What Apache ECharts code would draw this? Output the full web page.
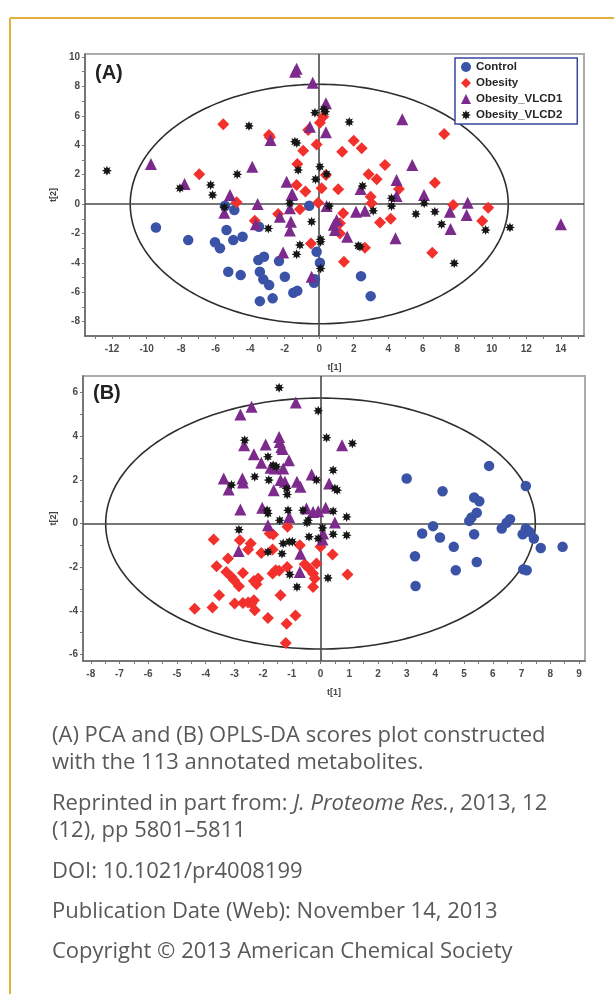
<!DOCTYPE html>
<html><head><meta charset="utf-8">
<script src="https://cdn.jsdelivr.net/npm/echarts@6/dist/echarts.min.js"></script>
<style>html,body{margin:0;padding:0;background:#fff}#c{width:614px;height:994px}</style>
</head><body><div id="c"></div>
<script>
// ---------------- DATA ----------------
const groupNames = ['Control', 'Obesity', 'Obesity_VLCD1', 'Obesity_VLCD2'];

// Panel A: PCA scores (t[1], t[2])
const controlA = [[-9.46,-1.59],[-7.59,-2.45],[-6.04,-2.6],[-5.75,-3.01],[-5.37,-1.77],[-4.98,-2.45],[-4.44,-2.22],[-5.46,-0.11],[-4.92,-0.41],[-3.49,-1.54],[-5.27,-4.6],[-4.55,-4.83],[-3.53,-3.81],[-3.2,-3.58],[-3.44,-4.6],[-3.24,-5.12],[-2.9,-5.51],[-2.33,-3.88],[-1.99,-4.94],[-3.44,-6.6],[-2.7,-6.41],[-1.5,-6.03],[-1.27,-5.9],[-0.25,-5.12],[-0.3,-5.35],[-0.58,-0.11],[-0.15,-3.24],[0.04,-3.99],[2.42,-4.9],[2.98,-6.26]];
const obesityA = [[-5.56,5.42],[-2.91,4.69],[-2.86,4.54],[-0.64,5.03],[0.04,5.53],[0.23,5.94],[-0.93,3.63],[-0.15,4.05],[-6.95,2.02],[-1.27,2.72],[-1.31,1.29],[-0.8,0.86],[0.14,1.07],[0.39,1.97],[2.0,4.3],[2.46,3.79],[1.33,3.56],[7.24,4.76],[3.81,2.65],[2.86,2.02],[3.33,1.68],[6.7,1.45],[4.62,1.02],[1.1,1.0],[2.98,0.5],[3.03,0.05],[-4.79,0.12],[-1.12,-0.36],[-0.06,0.08],[7.76,-0.07],[9.79,-0.25],[9.44,-1.16],[6.55,-3.31],[4.14,-1.0],[3.52,-1.25],[1.39,-0.63],[1.2,-1.31],[1.2,-2.0],[-0.48,-2.68],[2.65,-2.97],[1.43,-3.92],[-2.38,-0.68],[-3.73,-1.13]];
const vlcd1A = [[-1.31,9.2],[-1.4,9.0],[-0.38,8.25],[0.39,6.85],[-9.75,2.72],[-2.82,4.35],[-0.54,5.26],[0.39,4.88],[4.81,5.76],[-3.88,2.54],[-7.8,1.36],[-5.17,0.61],[-1.89,1.52],[-1.56,0.68],[5.39,2.65],[4.48,1.63],[2.4,1.02],[6.07,0.61],[4.48,0.54],[8.6,0.09],[8.54,-0.75],[7.61,-1.7],[14.0,-1.38],[7.57,-0.52],[4.42,-2.33],[2.65,-0.46],[2.13,-0.52],[1.01,-1.09],[0.91,-1.77],[0.85,-1.4],[1.62,-2.22],[-3.57,0.0],[-1.6,0.61],[-1.7,-0.29],[-2.28,-0.86],[-3.67,-1.38],[-1.64,-1.2],[-1.7,-1.8],[-2.09,-3.29],[-0.44,-4.94],[-5.5,-0.6],[0.43,-0.14]];
const vlcd2A = [[-12.3,2.27],[-4.07,5.31],[-1.41,4.24],[-1.3,4.15],[0.35,6.28],[-0.25,6.21],[0.27,6.44],[1.74,5.58],[-4.75,2.02],[-8.07,1.07],[-6.29,1.29],[-6.18,0.61],[-1.22,2.31],[0.04,2.54],[-0.21,1.68],[0.43,2.04],[2.51,1.22],[4.19,0.39],[4.19,-0.14],[6.08,0.05],[11.05,-1.59],[9.64,-1.77],[6.7,-0.52],[5.6,-0.68],[7.09,-1.38],[7.82,-4.03],[3.13,-0.46],[-0.44,-1.2],[0.08,-2.4],[0.08,-2.56],[-1.12,-2.79],[-1.31,-3.42],[2.26,-2.83],[2.36,-2.9],[0.08,-4.38],[0.58,-0.14],[-1.7,0.05],[-5.5,-0.22],[-2.95,-1.66]];

// Panel B: OPLS-DA scores (t[1], t[2])
const controlB = [[5.87,2.64],[3.0,2.06],[7.15,1.72],[4.25,1.48],[5.35,1.19],[5.53,1.02],[5.44,0.49],[5.26,0.28],[5.18,0.12],[6.6,0.2],[6.48,0.03],[6.31,-0.23],[3.92,-0.12],[3.54,-0.46],[4.16,-0.64],[5.35,-0.49],[7.15,-0.23],[7.04,-0.49],[7.27,-0.38],[7.43,-0.69],[7.67,-1.12],[8.43,-1.07],[4.64,-1.07],[3.29,-1.5],[5.44,-1.76],[4.71,-2.14],[7.06,-2.1],[7.18,-2.14],[3.31,-2.86]];
const obesityB = [[-1.15,-0.15],[-3.72,-0.73],[-2.81,-0.77],[-1.65,-0.5],[-1.77,-0.46],[-2.43,-0.92],[-2.52,-1.19],[-2.06,-1.35],[-1.67,-1.19],[-0.72,-1.0],[0.0,-1.07],[0.42,-1.42],[-3.22,-1.6],[-3.62,-1.96],[-3.28,-2.22],[-3.1,-2.45],[-3.01,-2.6],[-2.7,-2.27],[-2.32,-2.63],[-2.17,-2.52],[-2.23,-2.78],[-2.84,-2.88],[-1.67,-2.29],[-1.44,-2.17],[-1.56,-2.14],[-1.16,-1.99],[-0.55,-1.87],[-0.4,-2.06],[-0.26,-2.29],[-0.2,-2.52],[-0.14,-1.83],[-0.26,-2.91],[0.94,-2.34],[-3.53,-3.29],[-1.39,-3.29],[-2.99,-3.67],[-2.7,-3.64],[-2.52,-3.62],[-2.32,-3.52],[-2.4,-3.67],[-2.29,-3.98],[-4.38,-3.9],[-3.76,-3.85],[-1.83,-4.33],[-0.87,-4.21],[-1.18,-4.59],[-1.21,-5.48]];
const vlcd1B = [[-0.86,5.55],[-2.4,5.35],[-2.79,5.0],[0.75,3.59],[-2.66,3.59],[-1.91,3.62],[-1.44,3.97],[-1.42,3.74],[-1.36,3.51],[-1.32,3.41],[-2.32,3.17],[-2.06,2.78],[-1.74,2.55],[-1.59,2.52],[-1.3,2.52],[-1.1,2.9],[-0.31,2.25],[-3.37,2.06],[-3.2,1.56],[-2.72,2.06],[-2.7,1.88],[-1.39,1.99],[-1.24,1.91],[-1.63,1.53],[-0.82,1.91],[-0.7,1.68],[0.3,1.83],[-2.79,0.64],[-2.03,0.72],[-1.09,0.3],[-0.49,0.69],[-0.26,0.53],[-0.08,0.56],[0.18,0.72],[0.5,0.05],[-1.83,-0.08],[0.09,-0.46],[-2.85,-1.26],[-0.7,-1.38],[-0.72,-2.22],[0.07,-0.73]];
const vlcd2B = [[-1.44,6.22],[-0.08,5.17],[0.21,3.93],[1.11,3.67],[-2.64,3.82],[-1.83,3.06],[-1.65,2.67],[-1.53,2.6],[0.44,2.44],[-3.1,1.76],[-2.29,2.14],[-1.8,1.99],[-1.18,1.61],[-1.16,1.33],[-0.14,1.99],[0.5,1.61],[0.58,1.53],[-1.83,0.46],[-1.86,0.61],[-1.42,0.15],[-1.13,0.61],[-0.61,0.61],[0.44,0.56],[0.91,0.3],[-0.43,0.15],[-2.84,-0.28],[0.07,-0.2],[0.44,-0.49],[0.91,-0.54],[-1.3,-0.92],[-1.09,-0.84],[-0.98,-0.84],[-1.34,-1.38],[-1.83,-1.3],[-0.08,-0.69],[-0.4,-0.61],[-1.07,-2.34],[-0.82,-2.91],[0.26,-2.5],[-0.47,0.03]];

// Hotelling T2 ellipses: [centre t1, centre t2, semi-axis t1, semi-axis t2]
const ellipseA = [0, 0, 10.95, 8.14];
const ellipseB = [0, 0, 7.48, 5.75];

// Axis ranges and tick labels
const rangeA = {xMin: -13.57, xMax: 15.34, yMin: -8.97, yMax: 10.2};
const rangeB = {xMin: -8.27, xMax: 9.21, yMin: -6.3, yMax: 6.76};
const xLabelsA = [-12,-10,-8,-6,-4,-2,0,2,4,6,8,10,12,14];
const xTicksA = [-13,-12,-11,-10,-9,-8,-7,-6,-5,-4,-3,-2,-1,0,1,2,3,4,5,6,7,8,9,10,11,12,13,14,15];
const yLabelsA = [-8,-6,-4,-2,0,2,4,6,8,10];
const yTicksA = [-8,-7,-6,-5,-4,-3,-2,-1,0,1,2,3,4,5,6,7,8,9,10];
const xLabelsB = [-8,-7,-6,-5,-4,-3,-2,-1,0,1,2,3,4,5,6,7,8,9];
const xTicksB = [-8,-7.5,-7,-6.5,-6,-5.5,-5,-4.5,-4,-3.5,-3,-2.5,-2,-1.5,-1,-0.5,0,0.5,1,1.5,2,2.5,3,3.5,4,4.5,5,5.5,6,6.5,7,7.5,8,8.5,9];
const yLabelsB = [-6,-4,-2,0,2,4,6];
const yTicksB = [-6,-5,-4,-3,-2,-1,0,1,2,3,4,5,6];

// ---------------- STYLE ----------------
const STAR = 'path://M200,100 L150,121 L171,171 L121,150 L100,200 L79,150 L29,171 L50,121 L0,100 L50,79 L29,29 L79,50 L100,0 L121,50 L171,29 L150,79 Z';
const styles = {
  'Control':       {symbol: 'circle',   size: 10.5, color: '#3a53a6'},
  'Obesity':       {symbol: 'diamond',  size: 12,   color: '#f2302c'},
  'Obesity_VLCD1': {symbol: 'triangle', size: 12,   color: '#7c2a8c'},
  'Obesity_VLCD2': {symbol: STAR,       size: 10,   color: '#161616'}
};
const labelFont = {fontFamily: 'Liberation Sans, Arial', fontWeight: 'bold', fontSize: 10, color: '#4a4a4a'};

function ellipseItem(params, api) {
  const cx = api.value(0), cy = api.value(1), rx = api.value(2), ry = api.value(3);
  const pts = [];
  for (let i = 0; i <= 240; i++) {
    const t = i / 240 * 2 * Math.PI;
    pts.push(api.coord([cx + rx * Math.cos(t), cy + ry * Math.sin(t)]));
  }
  return {type: 'polyline', shape: {points: pts}, style: {stroke: '#2e2e2e', lineWidth: 1.6, fill: null}, silent: true};
}

function makeX(idx, r, labels, ticks) {
  return {
    gridIndex: idx, type: 'value', min: r.xMin, max: r.xMax,
    name: 't[1]', nameLocation: 'middle', nameGap: 27,
    nameTextStyle: {fontFamily: 'Liberation Sans, Arial', fontWeight: 'bold', fontSize: 9, color: '#444'},
    axisLine: {show: true, onZero: false, lineStyle: {color: '#666', width: 1.5}},
    axisTick: {show: true, customValues: ticks, length: 3, lineStyle: {color: '#777'}},
    axisLabel: Object.assign({customValues: labels, margin: 8}, labelFont),
    splitLine: {show: false}
  };
}
function makeY(idx, r, labels, ticks) {
  return {
    gridIndex: idx, type: 'value', min: r.yMin, max: r.yMax,
    name: 't[2]', nameLocation: 'middle', nameGap: 23,
    nameTextStyle: {fontFamily: 'Liberation Sans, Arial', fontWeight: 'bold', fontSize: 9, color: '#444'},
    axisLine: {show: true, onZero: false, lineStyle: {color: '#666', width: 1.5}},
    axisTick: {show: true, customValues: ticks, length: 3, lineStyle: {color: '#777'}},
    axisLabel: Object.assign({customValues: labels, margin: 5}, labelFont),
    splitLine: {show: false}
  };
}

function scatter(name, data, idx) {
  const s = styles[name];
  return {
    type: 'scatter', name: name, xAxisIndex: idx, yAxisIndex: idx, data: data,
    symbol: s.symbol, symbolSize: s.size, z: 5,
    itemStyle: {color: s.color, opacity: 1}
  };
}
function ellipseSeries(e, idx) {
  return {
    type: 'custom', xAxisIndex: idx, yAxisIndex: idx, data: [e], renderItem: ellipseItem, z: 2, silent: true,
    markLine: {
      silent: true, symbol: 'none', label: {show: false},
      lineStyle: {color: '#4a4a4a', width: 1.6, type: 'solid'},
      data: [{xAxis: 0}, {yAxis: 0}]
    }
  };
}

const seriesList = [
  ellipseSeries(ellipseA, 0), ellipseSeries(ellipseB, 1),
  scatter('Control', controlA, 0), scatter('Obesity', obesityA, 0),
  scatter('Obesity_VLCD1', vlcd1A, 0), scatter('Obesity_VLCD2', vlcd2A, 0),
  scatter('Control', controlB, 1), scatter('Obesity', obesityB, 1),
  scatter('Obesity_VLCD1', vlcd1B, 1), scatter('Obesity_VLCD2', vlcd2B, 1)
];

const captionSize = 22;
const captionFont = captionSize + 'px "Open Sans"';
const captionColor = '#595959';

const option = {
  animation: false,
  backgroundColor: '#ffffff',
  grid: [
    {left: 85, top: 54, width: 499, height: 282, show: true, borderColor: '#ababab', borderWidth: 2, backgroundColor: '#fff'},
    {left: 83, top: 376, width: 502, height: 285, show: true, borderColor: '#ababab', borderWidth: 2, backgroundColor: '#fff'}
  ],
  xAxis: [makeX(0, rangeA, xLabelsA, xTicksA), makeX(1, rangeB, xLabelsB, xTicksB)],
  yAxis: [makeY(0, rangeA, yLabelsA, yTicksA), makeY(1, rangeB, yLabelsB, yTicksB)],
  legend: {
    left: 455, top: 58, orient: 'vertical',
    data: groupNames.map(n => ({name: n, icon: styles[n].symbol})),
    itemWidth: 10, itemHeight: 10, itemGap: 4,
    textStyle: {fontFamily: 'Liberation Sans, Arial', fontWeight: 'bold', fontSize: 11.5, color: '#262626'},
    itemTextGap: 9,
    padding: [3, 15, 3, 6],
    borderColor: '#3b45a0', borderWidth: 1.5, backgroundColor: '#fff',
    selectedMode: false
  },
  graphic: [
    {type: 'line', shape: {x1: 10, y1: 18, x2: 614, y2: 18}, style: {stroke: '#e1b23a', lineWidth: 2}},
    {type: 'line', shape: {x1: 10, y1: 18, x2: 10, y2: 994}, style: {stroke: '#e1b23a', lineWidth: 2}},
    {type: 'text', x: 95, y: 73, z: 10, style: {text: '(A)', font: 'bold 20px "Liberation Sans", Arial', fill: '#222', verticalAlign: 'middle'}},
    {type: 'text', x: 93, y: 393, z: 10, style: {text: '(B)', font: 'bold 20px "Liberation Sans", Arial', fill: '#222', verticalAlign: 'middle'}},
    {type: 'text', x: 52, y: 736, style: {text: '(A) PCA and (B) OPLS-DA scores plot constructed', font: captionFont, fill: captionColor, verticalAlign: 'middle'}},
    {type: 'text', x: 52, y: 763, style: {text: 'with the 113 annotated metabolites.', font: captionFont, fill: captionColor, verticalAlign: 'middle'}},
    {type: 'text', x: 52, y: 804, style: {
      text: '{n|Reprinted in part from: }{i|J. Proteome Res.}{n|, 2013, 12}',
      verticalAlign: 'middle', fill: captionColor,
      rich: {
        n: {fontFamily: 'Open Sans', fontSize: captionSize, fill: captionColor},
        i: {fontFamily: 'Open Sans', fontSize: captionSize, fontStyle: 'italic', fill: captionColor}
      }
    }},
    {type: 'text', x: 52, y: 831, style: {text: '(12), pp 5801\u20135811', font: captionFont, fill: captionColor, verticalAlign: 'middle'}},
    {type: 'text', x: 52, y: 872, style: {text: 'DOI: 10.1021/pr4008199', font: captionFont, fill: captionColor, verticalAlign: 'middle'}},
    {type: 'text', x: 52, y: 912, style: {text: 'Publication Date (Web): November 14, 2013', font: captionFont, fill: captionColor, verticalAlign: 'middle'}},
    {type: 'text', x: 52, y: 952, style: {text: 'Copyright \u00a9 2013 American Chemical Society', font: captionFont, fill: captionColor, verticalAlign: 'middle'}}
  ],
  series: seriesList
};

const chart = echarts.init(document.getElementById('c'), null, {renderer: 'canvas'});
chart.setOption(option);
</script>
</body></html>
